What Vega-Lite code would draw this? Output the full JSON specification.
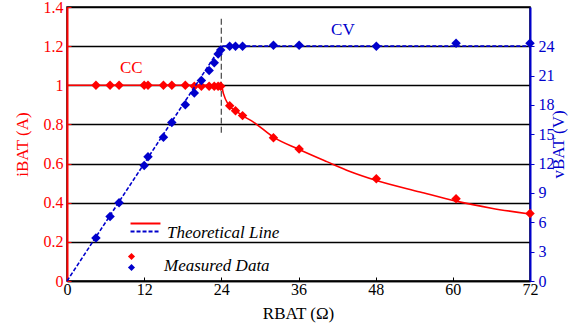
{
  "$schema": "https://vega.github.io/schema/vega-lite/v6.json",
  "width": 463,
  "height": 274,
  "autosize": {"type": "none"},
  "padding": {"left": 67, "top": 7, "right": 48, "bottom": 50},
  "config": {
    "font": "Liberation Serif",
    "view": {"stroke": "black", "strokeWidth": 1.5},
    "axis": {"labelFont": "Liberation Serif", "titleFont": "Liberation Serif", "labelFontSize": 16, "titleFontSize": 17, "titleFontWeight": "normal", "labelFlush": false},
    "text": {"font": "Liberation Serif"},
    "legend": {"labelFont": "Liberation Serif", "labelFontSize": 17, "labelFontStyle": "italic", "labelColor": "black", "orient": "none", "title": null}
  },
  "datasets": {
    "theory_i": [
      {"R": 0, "i": 1}, {"R": 24, "i": 1}, {"R": 24.3, "i": 0.96}, {"R": 25.1, "i": 0.9},
      {"R": 26.2, "i": 0.87}, {"R": 27.3, "i": 0.845}, {"R": 29, "i": 0.812}, {"R": 32.1, "i": 0.735},
      {"R": 36.1, "i": 0.672}, {"R": 40.4, "i": 0.61}, {"R": 44, "i": 0.56}, {"R": 48, "i": 0.515},
      {"R": 54.9, "i": 0.455}, {"R": 60.5, "i": 0.408}, {"R": 66, "i": 0.372}, {"R": 72, "i": 0.342}
    ],
    "theory_v": [{"R": 0, "v": 0}, {"R": 24, "v": 24}, {"R": 72, "v": 24}],
    "meas": [
      {"R": 4.5, "i": 1.0, "v": 4.4}, {"R": 6.7, "i": 1.0, "v": 6.6}, {"R": 8.1, "i": 1.0, "v": 8.0},
      {"R": 12.0, "i": 1.0, "v": 11.8}, {"R": 12.6, "i": 1.0, "v": 12.7}, {"R": 15.0, "i": 1.0, "v": 14.7},
      {"R": 16.3, "i": 1.0, "v": 16.2}, {"R": 18.4, "i": 1.0, "v": 18.0}, {"R": 19.8, "i": 0.995, "v": 19.2},
      {"R": 20.9, "i": 0.995, "v": 20.5}, {"R": 22.1, "i": 0.995, "v": 21.5}, {"R": 22.9, "i": 0.995, "v": 22.3},
      {"R": 23.5, "i": 0.995, "v": 23.2}, {"R": 23.9, "i": 0.995, "v": 23.6},
      {"R": 25.3, "i": 0.895, "v": 24.0}, {"R": 26.2, "i": 0.87, "v": 24.0}, {"R": 27.3, "i": 0.845, "v": 24.0},
      {"R": 32.1, "i": 0.732, "v": 24.1}, {"R": 36.1, "i": 0.674, "v": 24.1}, {"R": 48.1, "i": 0.522, "v": 24.0},
      {"R": 60.5, "i": 0.42, "v": 24.3}, {"R": 72, "i": 0.345, "v": 24.3}
    ],
    "cc": [{"R": 10, "i": 1.09, "label": "CC"}],
    "cv": [{"R": 42.9, "v": 25.6, "label": "CV"}],
    "boundary": [{"R": 24, "lo": 0.757, "hi": 1.352}]
  },
  "encoding": {
    "x": {
      "field": "R", "type": "quantitative",
      "scale": {"domain": [0, 72], "nice": false, "zero": false},
      "axis": {
        "values": [0, 12, 24, 36, 48, 60, 72], "grid": false, "domainColor": "black", "domainWidth": 1.5,
        "tickColor": "black", "tickSize": -4, "labelColor": "black", "labelPadding": 4, "labelFlush": false,
        "title": "RBAT (Ω)", "titleColor": "black", "titleX": 231, "titleY": 32, "titleBaseline": "middle", "titleAlign": "center"
      }
    }
  },
  "layer": [
    {
      "encoding": {
        "y": {
          "type": "quantitative",
          "scale": {"domain": [0, 1.4], "nice": false, "zero": true},
          "axis": {
            "orient": "left", "values": [0, 0.2, 0.4, 0.6, 0.8, 1, 1.2, 1.4], "format": "~g",
            "grid": true, "gridColor": "black", "gridWidth": 1.3, "gridOpacity": 1,
            "domainColor": "#ff0000", "domainWidth": 2, "tickColor": "#ff0000", "tickSize": -4,
            "labelColor": "#ff0000", "labelPadding": 8, "labelFlush": false,
            "title": "iBAT (A)", "titleColor": "#ff0000", "titleAngle": 270, "titleX": -45, "titleY": 137,
            "titleBaseline": "middle", "titleAlign": "center"
          }
        }
      },
      "layer": [
        {
          "data": {"name": "boundary"},
          "mark": {"type": "rule", "color": "#555555", "strokeDash": [6, 3], "strokeWidth": 1.3},
          "encoding": {"y": {"field": "lo", "type": "quantitative"}, "y2": {"field": "hi"}}
        },
        {
          "data": {"name": "theory_i"},
          "mark": {"type": "line", "strokeWidth": 1.6, "interpolate": "monotone"},
          "encoding": {
            "y": {"field": "i", "type": "quantitative"},
            "stroke": {
              "datum": "iLine",
              "scale": {"domain": ["iLine"], "range": ["#ff0000"]},
              "legend": {
                "legendX": 70, "legendY": 208,
                "symbolType": "M-4,0H4", "symbolSize": 56, "symbolStrokeWidth": 2,
                "labelExpr": "'Theoretical Line'",
                "labelBaseline": "line-top", "labelLineHeight": 2, "labelOffset": 13
              }
            }
          }
        },
        {
          "data": {"name": "meas"},
          "mark": {"type": "point", "shape": "diamond", "filled": true, "size": 90, "opacity": 1},
          "encoding": {
            "y": {"field": "i", "type": "quantitative"},
            "fill": {
              "datum": "iPt",
              "scale": {"domain": ["iPt"], "range": ["#ff0000"]},
              "legend": {
                "legendX": 56, "legendY": 241,
                "symbolType": "diamond", "symbolSize": 50,
                "labelExpr": "'Measured Data'",
                "labelBaseline": "line-top", "labelLineHeight": 10, "labelOffset": 24
              }
            }
          }
        },
        {
          "data": {"name": "cc"},
          "mark": {"type": "text", "color": "#ff0000", "fontSize": 17, "font": "Liberation Serif"},
          "encoding": {"y": {"field": "i", "type": "quantitative"}, "text": {"field": "label"}}
        }
      ]
    },
    {
      "encoding": {
        "y": {
          "type": "quantitative",
          "scale": {"domain": [0, 28], "nice": false, "zero": true},
          "axis": {
            "orient": "right", "values": [0, 3, 6, 9, 12, 15, 18, 21, 24], "grid": false,
            "domainColor": "#0000cc", "domainWidth": 2, "tickColor": "#0000cc", "tickSize": 4,
            "labelColor": "#0000cc", "labelPadding": 4, "labelFlush": false,
            "title": "vBAT (V)", "titleColor": "#0000cc", "titleAngle": 270, "titleX": 28, "titleY": 137,
            "titleBaseline": "middle", "titleAlign": "center"
          }
        }
      },
      "layer": [
        {
          "data": {"name": "theory_v"},
          "mark": {"type": "line", "strokeWidth": 1.6, "color": "#0000cc"},
          "encoding": {
            "y": {"field": "v", "type": "quantitative"},
            "strokeDash": {
              "datum": "vLine",
              "scale": {"domain": ["vLine"], "range": [[4, 2]]},
              "legend": {
                "legendX": 70, "legendY": 216,
                "symbolType": "M-4,0H4", "symbolSize": 56, "symbolStrokeWidth": 2, "symbolStrokeColor": "#0000cc",
                "labelExpr": "''", "labelOffset": 13
              }
            }
          }
        },
        {
          "data": {"name": "meas"},
          "mark": {"type": "point", "filled": true, "size": 90, "opacity": 1, "color": "#0000cc"},
          "encoding": {
            "y": {"field": "v", "type": "quantitative"},
            "shape": {
              "datum": "vPt",
              "scale": {"domain": ["vPt"], "range": ["diamond"]},
              "legend": {
                "legendX": 56, "legendY": 252,
                "symbolSize": 50, "symbolFillColor": "#0000cc", "symbolStrokeWidth": 0,
                "labelExpr": "''", "labelOffset": 24
              }
            }
          }
        },
        {
          "data": {"name": "cv"},
          "mark": {"type": "text", "color": "#0000cc", "fontSize": 17, "font": "Liberation Serif"},
          "encoding": {"y": {"field": "v", "type": "quantitative"}, "text": {"field": "label"}}
        }
      ]
    }
  ],
  "resolve": {"scale": {"y": "independent"}}
}
